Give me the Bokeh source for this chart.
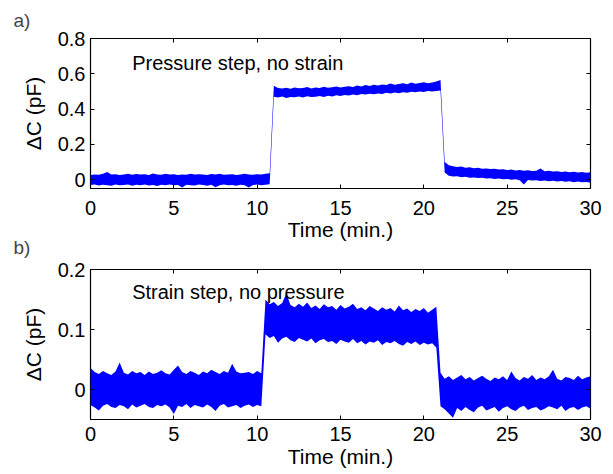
from bokeh.plotting import figure
from bokeh.models import FixedTicker, LinearAxis, Label, Range1d, Title
from bokeh.layouts import column
from bokeh.embed import file_html
from bokeh.resources import INLINE

# ---------------- data ----------------
x_ticks = [0, 5, 10, 15, 20, 25, 30]
x_tick_labels = ["0", "5", "10", "15", "20", "25", "30"]
ya_ticks = [0, 0.2, 0.4, 0.6, 0.8]
ya_tick_labels = ["0", "0.2", "0.4", "0.6", "0.8"]
yb_ticks = [0, 0.1, 0.2]
yb_tick_labels = ["0", "0.1", "0.2"]

# sample times (min.), one envelope sample every 0.25 min
time_min = [i * 0.25 for i in range(121)]

# panel a) envelope of the noisy trace, in 1e-3 pF (upper / lower edge)
a_hi = [26, 30, 28, 33, 44, 29, 31, 27, 30, 34, 28, 32, 29, 31, 27, 35, 30, 28, 33, 29, 31, 27,
        30, 28, 34, 29, 31, 30, 27, 32, 29, 33, 28, 30, 31, 27, 29, 34, 30, 28, 31, 29, 33, 36,
        532, 519, 516, 521, 515, 523, 518, 520, 525, 517, 522, 519, 526, 521, 524, 528, 522, 527,
        530, 525, 533, 528, 536, 531, 538, 534, 540, 536, 545, 538, 542, 547, 541, 550, 544, 548,
        552, 546, 551, 556, 565,
        100, 82, 76, 72, 75, 68, 70, 65, 67, 62, 64, 60, 62, 57, 59, 55, 57, 52, 55, 50, 53, 49,
        51, 63, 48, 50, 46, 48, 44, 47, 42, 45, 41, 44, 39, 42]
a_lo = [-30, -27, -33, -29, -31, -35, -28, -32, -30, -27, -34, -29, -31, -28, -33, -30, -36, -29,
        -31, -27, -32, -30, -44, -29, -31, -33, -28, -30, -34, -29, -43, -31, -28, -32, -30, -35,
        -29, -31, -45, -30, -28, -32, -29, -26,
        470, 466, 472, 463, 469, 467, 471, 465, 473, 468, 470, 474, 469, 476, 472, 478, 474, 480,
        477, 483, 479, 485, 482, 487, 484, 489, 486, 492, 488, 494, 490, 496, 492, 498, 495, 500,
        497, 502, 499, 503, 505,
        40, 22, 18, 20, 14, 16, 11, 13, 9, 11, 6, 8, 4, 6, 2, 4, 0, 2, -3, -28, -2, -5, -3, -7,
        -4, -9, -6, -10, -8, -12, -9, -14, -11, -15, -13, -18]

# panel b) envelope of the noisy trace, in 1e-3 pF
b_hi = [36, 29, 26, 31, 27, 24, 30, 45, 28, 25, 31, 27, 29, 24, 30, 26, 28, 32, 27, 25, 33, 40,
        29, 26, 31, 28, 24, 30, 27, 33, 29, 26, 31, 28, 43, 30, 27, 28, 29, 26, 31, 27,
        150, 142, 146, 139, 144, 160, 141, 137, 143, 138, 145, 136, 140, 134, 142, 137, 139, 133,
        141, 135, 138, 143, 134, 137, 132, 139, 135, 131, 137, 133, 136, 130, 140, 132, 135, 129,
        134, 131, 136, 128, 133, 138,
        28, 18, 22, 16, 20, 24, 17, 21, 15, 19, 23, 18, 14, 20, 17, 22, 16, 30, 19, 15, 21, 18,
        24, 16, 20, 17, 22, 33, 18, 15, 21, 19, 16, 23, 17, 20, 22]
b_lo = [-26, -30, -35, -27, -24, -29, -31, -26, -28, -33, -25, -30, -27, -24, -29, -31, -26, -28,
        -25, -30, -41, -27, -29, -24, -31, -26, -28, -30, -25, -29, -36, -27, -24, -30, -28, -26,
        -31, -27, -25, -29, -26, -28,
        92, 86, 89, 78, 85, 88, 82, 79, 86, 83, 80, 85, 77, 82, 84, 79, 81, 76, 83, 80, 78, 84,
        77, 81, 75, 80, 78, 82, 74, 79, 77, 81, 76, 73, 79, 76, 80, 74, 78, 75, 77, 70,
        -28, -33, -40, -47, -31, -36, -29, -34, -38, -30, -27, -35, -32, -29, -37, -31, -28, -33,
        -36, -30, -27, -34, -31, -29, -35, -32, -28, -30, -33, -27, -36, -31, -29, -34, -30, -28,
        -32]

FONT = "Liberation Sans"
BLUE = "#0000ff"


def panel(hi, lo, yr, yticks, ylabels, note, note_x, note_y, height, top, bottom,
          tick_standoff, label_standoff):
    p = figure(width=605, height=height, x_range=Range1d(0, 30), y_range=Range1d(*yr),
               output_backend="svg", toolbar_location=None, title=None,
               min_border_left=90, min_border_right=15, min_border_top=top,
               min_border_bottom=bottom, background_fill_color="white",
               border_fill_color="white")
    p.xgrid.visible = False
    p.ygrid.visible = False
    p.outline_line_color = "black"
    p.outline_line_width = 1.2
    p.outline_line_alpha = 1

    p.varea(x=time_min, y1=[v / 1000 for v in lo], y2=[v / 1000 for v in hi],
            fill_color=BLUE, fill_alpha=1)

    p.xaxis.ticker = FixedTicker(ticks=x_ticks)
    p.yaxis.ticker = FixedTicker(ticks=yticks)
    p.xaxis.major_label_overrides = dict(zip(x_ticks, x_tick_labels))
    p.yaxis.major_label_overrides = dict(zip(yticks, ylabels))
    for ax in (p.xaxis[0], p.yaxis[0]):
        ax.major_tick_in = 4
        ax.major_tick_out = 0
        ax.minor_tick_line_color = None
        ax.axis_line_color = None
        ax.major_tick_line_color = "black"
        ax.major_label_text_font = FONT
        ax.major_label_text_font_size = "20px"
        ax.major_label_text_color = "black"
        ax.axis_label_text_font = FONT
        ax.axis_label_text_font_size = "21px"
        ax.axis_label_text_font_style = "normal"
        ax.axis_label_text_color = "black"
    p.xaxis.axis_label = "Time (min.)"
    p.xaxis.major_label_standoff = tick_standoff
    p.xaxis.axis_label_standoff = label_standoff
    p.yaxis.axis_label = "ΔC (pF)"
    p.yaxis.major_label_standoff = 5
    p.yaxis.axis_label_standoff = 10

    right = LinearAxis(ticker=FixedTicker(ticks=yticks))
    above = LinearAxis(ticker=FixedTicker(ticks=x_ticks))
    for ax in (right, above):
        ax.major_tick_in = 4
        ax.major_tick_out = 0
        ax.minor_tick_line_color = None
        ax.axis_line_color = None
        ax.major_label_text_font_size = "1px"
        ax.major_label_text_color = None
        ax.major_label_standoff = 0
    right.major_label_overrides = {t: "" for t in yticks}
    above.major_label_overrides = {t: "" for t in x_ticks}
    p.add_layout(right, "right")
    p.add_layout(above, "above")

    p.add_layout(Label(x=note_x, y=note_y, text=note, text_font=FONT,
                       text_font_size="20px", text_baseline="alphabetic",
                       text_color="black"))
    return p


pa = panel(a_hi, a_lo, (-0.05, 0.8), ya_ticks, ya_tick_labels,
           "Pressure step, no strain", 2.5, 0.661, 259, 38, 71, 12, 0)
pb = panel(b_hi, b_lo, (-0.05, 0.2), yb_ticks, yb_tick_labels,
           "Strain step, no pressure", 2.5, 0.163, 214, 10, 54, 7, 1)

# panel letters, as titles pushed to the left of the frames
pa.add_layout(Title(text="a)", text_font=FONT, text_font_size="19px",
                    text_font_style="normal", align="left", offset=-77, standoff=15),
              "above")
pa.add_layout(Title(text="b)", text_font=FONT, text_font_size="19px",
                    text_font_style="normal", align="left", offset=-77, standoff=-18),
              "below")

layout = column(pa, pb)
open("out.html", "w").write(file_html(layout, INLINE))
